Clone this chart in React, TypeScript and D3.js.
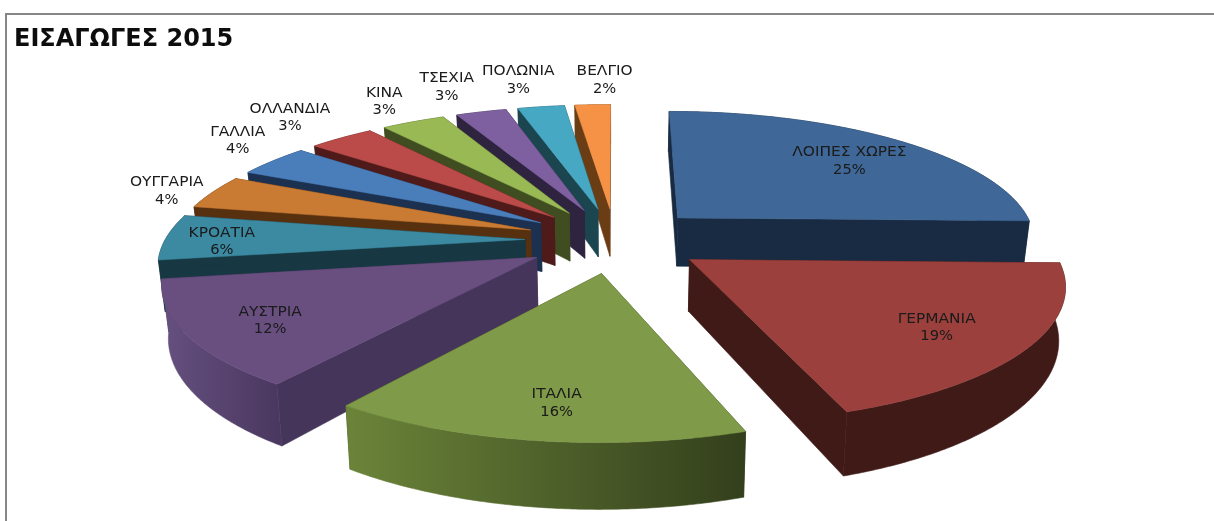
import React from "react";
import * as d3 from "d3";

const categories = ["ΛΟΙΠΕΣ ΧΩΡΕΣ", "ΓΕΡΜΑΝΙΑ", "ΙΤΑΛΙΑ", "ΑΥΣΤΡΙΑ", "ΚΡΟΑΤΙΑ", "ΟΥΓΓΑΡΙΑ", "ΓΑΛΛΙΑ", "ΟΛΛΑΝΔΙΑ", "ΚΙΝΑ", "ΤΣΕΧΙΑ", "ΠΟΛΩΝΙΑ", "ΒΕΛΓΙΟ"];
const shares = [25.4, 19.3, 15.3, 12.6, 5.5, 4.1, 3.9, 3.5, 3.4, 2.7, 2.5, 1.9];
const percentLabels = ["25%", "19%", "16%", "12%", "6%", "4%", "4%", "3%", "3%", "3%", "3%", "2%"];
const title = "ΕΙΣΑΓΩΓΕΣ 2015";

const topColors = ["#3f6797", "#9b403d", "#7f9a48", "#694f80", "#3c8aa2", "#c97a33", "#4a7ebb", "#bb4b49", "#98b954", "#7e60a0", "#46a8c3", "#f59245"];
const wallColors = ["#182b42", "#3f1a17", "#3a4820", "#46355a", "#173842", "#57300f", "#1c3150", "#4f1b1a", "#3f4d20", "#2f2440", "#1b4650", "#6b3d15"];
const rimLeft = ["#182b42", "#3f1a17", "#6b8439", "#65507f", "#173842", "#57300f", "#1c3150", "#4f1b1a", "#3f4d20", "#2f2440", "#1b4650", "#6b3d15"];
const rimRight = ["#182b42", "#3f1a17", "#333f1c", "#4b3860", "#173842", "#57300f", "#1c3150", "#4f1b1a", "#3f4d20", "#2f2440", "#1b4650", "#6b3d15"];
const labelRadius = [0.72, 0.72, 0.72, 0.72, 0.72, 1.14, 1.14, 1.14, 1.14, 1.14, 1.14, 1.14];
const labelNudge = [[9, -0.5], [11, 5], [1, 15], [-21, 8], [-45, 3], [-4, 3], [-1, -13], [-25, -11.5], [-10, -10], [-22, -14], [-16, -15.5], [14, -13]];

const W = 1214, H = 521;
const CX = 615, CY = 240, RX = 360, RY = 130, PERSP = 0.16, EXPLODE = 0.25, DEPTH = 50;

const project = (wx: number, wy: number, bottom = false): [number, number] => {
  const s = 1 / (1 - PERSP * wy);
  const sx = RX * wx * s * (bottom ? 0.985 : 1);
  return [CX + sx, CY + RY * wy * s + (bottom ? DEPTH * Math.pow(s, 1.3) : 0)];
};

const arcs = d3.pie<number>().sort(null).startAngle(0).endAngle(2 * Math.PI)(shares);
const line = d3.line();

export default function App() {
  const slices = arcs.map((a, i) => {
    const mid = (a.startAngle + a.endAngle) / 2;
    const ex = Math.sin(mid) * EXPLODE, ey = -Math.cos(mid) * EXPLODE;
    const n = Math.max(4, Math.ceil((a.endAngle - a.startAngle) / 0.008));
    const angles = d3.range(n + 1).map((k) => a.startAngle + ((a.endAngle - a.startAngle) * k) / n);
    const rimTop = angles.map((t) => project(ex + Math.sin(t), ey - Math.cos(t)));
    const rimBot = angles.map((t) => project(ex + Math.sin(t), ey - Math.cos(t), true));
    const apexTop = project(ex, ey);
    const apexBot = project(ex, ey, true);
    const lx = Math.sin(mid) * (EXPLODE + labelRadius[i]), ly = -Math.cos(mid) * (EXPLODE + labelRadius[i]);
    const [px, py] = project(lx, ly);
    const xs = rimTop.map((p) => p[0]);
    return {
      i, order: -Math.cos(mid) * EXPLODE,
      top: line([apexTop, ...rimTop])! + "Z",
      wallA: line([apexTop, rimTop[0], rimBot[0], apexBot])! + "Z",
      wallB: line([apexTop, rimTop[n], rimBot[n], apexBot])! + "Z",
      rim: line([...rimTop, ...[...rimBot].reverse()])! + "Z",
      x0: d3.min(xs)!, x1: d3.max(xs)!,
      lx: px + labelNudge[i][0], ly: py + labelNudge[i][1],
    };
  });
  const ordered = [...slices].sort((a, b) => d3.ascending(a.order, b.order));
  return (
    <svg width={W} height={H} style={{ position: "absolute", left: 0, top: 0, background: "#fff" }}>
      <defs>
        {slices.map((s) => (
          <linearGradient key={s.i} id={`rim${s.i}`} gradientUnits="userSpaceOnUse" x1={s.x0} x2={s.x1} y1={0} y2={0}>
            <stop offset="0" stopColor={rimLeft[s.i]} />
            <stop offset="1" stopColor={rimRight[s.i]} />
          </linearGradient>
        ))}
        <filter id="soft" x="-5%" y="-20%" width="110%" height="140%">
          <feGaussianBlur stdDeviation="0.35" />
        </filter>
      </defs>
      <path d={`M${W},14H6V${H}`} fill="none" stroke="#868686" strokeWidth={2} />
      {ordered.map((s) => (
        <g key={s.i}>
          <path d={s.wallA} fill={wallColors[s.i]} stroke={wallColors[s.i]} strokeWidth={0.6} />
          <path d={s.wallB} fill={wallColors[s.i]} stroke={wallColors[s.i]} strokeWidth={0.6} />
          <path d={s.rim} fill={`url(#rim${s.i})`} stroke={`url(#rim${s.i})`} strokeWidth={0.6} />
          <path d={s.top} fill={topColors[s.i]} stroke={topColors[s.i]} strokeWidth={0.5} />
        </g>
      ))}
      <text x={14} y={46} fontFamily="'DejaVu Sans'" fontWeight={700} fontSize={24} fill="#111" filter="url(#soft)">{title}</text>
      {slices.map((s) => (
        <g key={s.i} fontFamily="'DejaVu Sans'" fontSize={14} fill="#1a1a1a" textAnchor="middle" filter="url(#soft)">
          <text transform={`translate(${s.lx},${s.ly - 4}) scale(1.1,1)`}>{categories[s.i]}</text>
          <text transform={`translate(${s.lx},${s.ly + 13.5}) scale(1.05,1)`}>{percentLabels[s.i]}</text>
        </g>
      ))}
    </svg>
  );
}
